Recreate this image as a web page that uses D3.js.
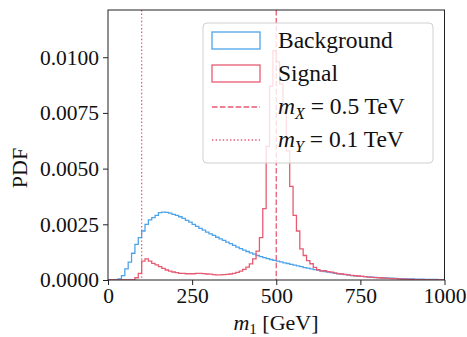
<!DOCTYPE html>
<html><head><meta charset="utf-8">
<script src="https://cdn.jsdelivr.net/npm/d3@7"></script>
<style>
html,body{margin:0;padding:0;background:#fff;}
svg{display:block;}
</style></head>
<body>
<svg id="c" width="467" height="337"></svg>
<script>
// ---- data ----
const binEdgesStart = 0, binWidth = 10, nBins = 100;
const background = [
 0,0,0,0.00005,0.0002,0.0005,0.0008,0.0012,0.0016,0.0019,
 0.0022,0.0025,0.0027,0.0028,0.0029,0.00302,0.00305,0.00304,0.003,0.00295,
 0.0029,0.00284,0.00277,0.00268,0.0026,0.0025,0.00241,0.00232,0.00224,0.00215,
 0.00207,0.002,0.00192,0.00185,0.00178,0.0017,0.00163,0.00155,0.00148,0.00141,
 0.00134,0.00128,0.00122,0.00116,0.0011,0.00105,0.001,0.00096,0.00092,0.00088,
 0.00085,0.00081,0.00077,0.00074,0.0007,0.00067,0.00063,0.0006,0.00056,0.00053,
 0.0005,0.00047,0.00044,0.00041,0.00038,0.00035,0.00033,0.0003,0.00028,0.00026,
 0.00024,0.00022,0.0002,0.00019,0.00017,0.00016,0.00015,0.00014,0.00013,0.00012,
 0.00011,0.0001,0.00009,0.000085,0.00008,0.00007,0.000065,0.00006,0.000055,0.00005,
 0.000045,0.00004,0.000037,0.000034,0.00003,0.000028,0.000025,0.000023,0.00002,0.000018
];
const signal = [
 0,0,0,0,0,0,0,0,0.0001,0.0003,
 0.00085,0.00095,0.00085,0.00075,0.00068,0.0006,0.00052,0.00045,0.0004,0.00036,
 0.00033,0.0003,0.0003,0.00028,0.00028,0.00028,0.0003,0.0003,0.00029,0.00027,
 0.00026,0.00024,0.00023,0.00023,0.00024,0.00025,0.00027,0.0003,0.00034,0.0004,
 0.00048,0.00058,0.00072,0.00095,0.0013,0.0019,0.0032,0.006,0.0087,0.0103,
 0.0098,0.0088,0.0075,0.0058,0.0042,0.0029,0.0022,0.0014,0.0011,0.00087,
 0.00073,0.00057,0.00046,0.0004,0.00042,0.00038,0.00035,0.00032,0.00029,0.00027,
 0.00025,0.00023,0.00021,0.00019,0.00018,0.00016,0.00015,0.00013,0.00012,0.00011,
 0.0001,0.00009,0.00008,0.00007,0.00006,0.00006,0.00005,0.00004,0.00004,0.00003,
 0.00003,0.00002,0.00002,0.00002,0.00001,0.00001,0,0,0,0
];
const xTicks = [0,250,500,750,1000];
const yTicks = [0,0.0025,0.005,0.0075,0.01];
const yTickLabels = ["0.0000","0.0025","0.0050","0.0075","0.0100"];
const mX = 500, mY = 100;
const legendLabels = ["Background","Signal"];

// ---- layout ----
const FONT = "'Liberation Serif'";
const L=108, R=444.5, T=10, B=280;
const blue="#4ea4ea", red="#e85a72";
const svg=d3.select("#c");
const x=d3.scaleLinear().domain([0,1000]).range([L,R]);
const y=d3.scaleLinear().domain([0,0.01212]).range([B,T]);

svg.append("defs").append("clipPath").attr("id","clip")
 .append("rect").attr("x",L).attr("y",T).attr("width",R-L).attr("height",B-T);

function stepPts(vals){
  const pts=[[binEdgesStart,0]];
  vals.forEach((v,i)=>{const e=binEdgesStart+i*binWidth;pts.push([e,v]);pts.push([e+binWidth,v]);});
  pts.push([binEdgesStart+nBins*binWidth,0]);
  return pts;
}
const line=d3.line().x(d=>x(d[0])).y(d=>y(d[1]));
const g=svg.append("g").attr("clip-path","url(#clip)");
g.append("path").attr("d",line(stepPts(background))).attr("fill","none").attr("stroke",blue).attr("stroke-width",1.3);
g.append("path").attr("d",line(stepPts(signal))).attr("fill","none").attr("stroke",red).attr("stroke-width",1.3);
g.append("line").attr("x1",x(mX)).attr("x2",x(mX)).attr("y1",T).attr("y2",B)
 .attr("stroke",red).attr("stroke-width",1.3).attr("stroke-dasharray","5.5,2.4");
g.append("line").attr("x1",x(mY)).attr("x2",x(mY)).attr("y1",T).attr("y2",B)
 .attr("stroke",red).attr("stroke-width",1.3).attr("stroke-dasharray","1.4,2.2");

// frame
svg.append("rect").attr("x",L).attr("y",T).attr("width",R-L).attr("height",B-T)
 .attr("fill","none").attr("stroke","#222").attr("stroke-width",1);

// axes
const xa=svg.append("g").attr("transform",`translate(0,${B})`)
 .call(d3.axisBottom(x).tickValues(xTicks).tickSize(5).tickPadding(3).tickFormat(d3.format("d")));
const ya=svg.append("g").attr("transform",`translate(${L},0)`)
 .call(d3.axisLeft(y).tickValues(yTicks).tickSize(5).tickPadding(4).tickFormat((d,i)=>yTickLabels[i]));
[xa,ya].forEach(a=>{a.select(".domain").remove();
 a.attr("font-family",FONT).attr("font-size",21.5);
 a.selectAll("line").attr("stroke","#222");
 a.selectAll("text").attr("fill","#111");});

// axis labels
svg.append("text").attr("transform","translate(27,168) rotate(-90)").attr("text-anchor","middle")
 .attr("font-family",FONT).attr("font-size",22).attr("fill","#111").text("PDF");
const xl=svg.append("text").attr("x",276).attr("y",330).attr("text-anchor","middle")
 .attr("font-family",FONT).attr("font-size",22).attr("fill","#111");
xl.append("tspan").attr("font-style","italic").text("m");
xl.append("tspan").attr("dy",4).attr("font-size",15).text("1");
xl.append("tspan").attr("dy",-4).text(" [GeV]");

// legend
const lg=svg.append("g").attr("font-family",FONT).attr("fill","#111");
lg.append("rect").attr("x",203).attr("y",23).attr("width",230).attr("height",140).attr("rx",4)
 .attr("fill","#fff").attr("fill-opacity",0.8).attr("stroke","#d0d0d0").attr("stroke-width",1);
lg.append("rect").attr("x",212).attr("y",32).attr("width",48).attr("height",17).attr("fill","none").attr("stroke",blue).attr("stroke-width",1.3);
lg.append("rect").attr("x",212).attr("y",65).attr("width",48).attr("height",17).attr("fill","none").attr("stroke",red).attr("stroke-width",1.3);
lg.append("line").attr("x1",212).attr("x2",260).attr("y1",107).attr("y2",107).attr("stroke",red).attr("stroke-width",1.3).attr("stroke-dasharray","5.5,2.4");
lg.append("line").attr("x1",212).attr("x2",260).attr("y1",140).attr("y2",140).attr("stroke",red).attr("stroke-width",1.3).attr("stroke-dasharray","1.4,2.2");
const fs=23.5;
lg.append("text").attr("x",278).attr("y",48).attr("font-size",fs).text(legendLabels[0]);
lg.append("text").attr("x",278).attr("y",81).attr("font-size",fs).text(legendLabels[1]);
function mlabel(yy,sub,val){
  const t=lg.append("text").attr("x",278).attr("y",yy).attr("font-size",fs);
  t.append("tspan").attr("font-style","italic").text("m");
  t.append("tspan").attr("dy",5).attr("font-size",16).attr("font-style","italic").text(sub);
  t.append("tspan").attr("dy",-5).text(" = "+val+" TeV");
}
mlabel(114,"X","0.5");
mlabel(147,"Y","0.1");
</script>
</body></html>
